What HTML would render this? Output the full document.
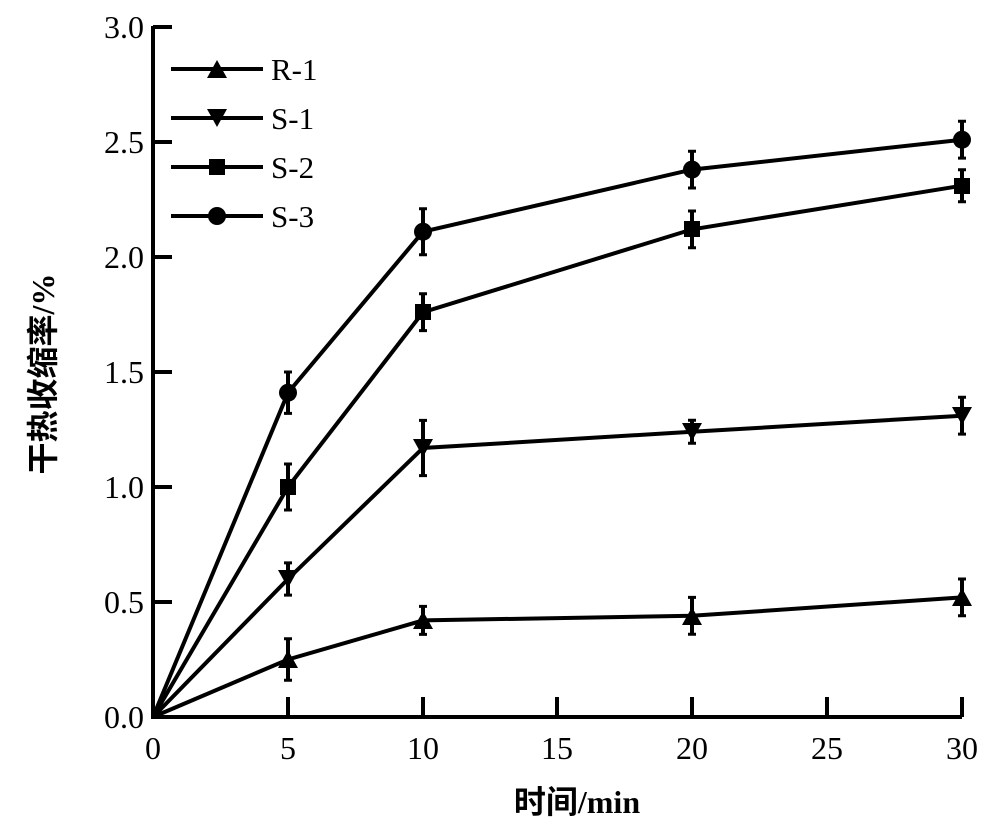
<!DOCTYPE html>
<html><head><meta charset="utf-8"><style>
html,body{margin:0;padding:0;background:#fff;}
svg{display:block;}
text{font-family:"Liberation Serif",serif;fill:#000;}
.cjk{font-family:"Liberation Serif","Noto Sans CJK SC","WenQuanYi Zen Hei",sans-serif;}
</style></head><body>
<svg width="1000" height="821" viewBox="0 0 1000 821" xmlns="http://www.w3.org/2000/svg">
<g stroke="#000" stroke-width="4" fill="none">
<path d="M153 26 V717 H962"/>
<path d="M153 27 H172 M153 142 H172 M153 257 H172 M153 372 H172 M153 487 H172 M153 602 H172"/>
<path d="M288 717 V697 M423 717 V697 M557 717 V697 M692 717 V697 M827 717 V697 M962 717 V697"/>
<polyline points="153,717 288,659.5 423,620.4 692,615.8 962,597.4"/>
<polyline points="153,717 288,579 423,448 692,431.8 962,415.7"/>
<polyline points="153,717 288,487 423,312.2 692,229.4 962,185.7"/>
<polyline points="153,717 288,392.7 423,231.7 692,169.6 962,139.7"/>
<path d="M171 69 H263 M171 118 H263 M171 167 H263 M171 216 H263"/>
</g>
<g stroke="#000" stroke-width="4">
<path d="M288 638.8V680.2 M423 606.4V634.4 M692 597.4V634.2 M962 579V615.8"/>
<path d="M288 562.9V595.1 M423 420.4V475.6 M692 420.3V443.3 M962 397.3V434.1"/>
<path d="M288 464V510 M423 293.8V330.6 M692 211V247.8 M962 169.7V201.7"/>
<path d="M288 372V413.4 M423 208.7V254.7 M692 151.2V188 M962 121.3V158.1"/>
<path stroke-width="3" d="M284 638.8h8M284 680.2h8M419 606.4h8M419 634.4h8M688 597.4h8M688 634.2h8M958 579h8M958 615.8h8
M284 562.9h8M284 595.1h8M419 420.4h8M419 475.6h8M688 420.3h8M688 443.3h8M958 397.3h8M958 434.1h8
M284 464h8M284 510h8M419 293.8h8M419 330.6h8M688 211h8M688 247.8h8M958 169.7h8M958 201.7h8
M284 372h8M284 413.4h8M419 208.7h8M419 254.7h8M688 151.2h8M688 188h8M958 121.3h8M958 158.1h8"/>
</g>
<g fill="#000">
<path d="M288 650l-10 18h20z M423 611l-10 18h20z M692 607l-10 18h20z M962 588l-10 18h20z M217 60l-10 18h20z"/>
<path d="M288 588l-10 -18h20z M423 457l-10 -18h20z M692 441l-10 -18h20z M962 425l-10 -18h20z M217 127l-10 -18h20z"/>
<rect x="280" y="479" width="16" height="16"/><rect x="415" y="304" width="16" height="16"/><rect x="684" y="221" width="16" height="16"/><rect x="954" y="178" width="16" height="16"/><rect x="209" y="159" width="16" height="16"/>
<circle cx="288" cy="392.7" r="9"/><circle cx="423" cy="231.7" r="9"/><circle cx="692" cy="169.6" r="9"/><circle cx="962" cy="139.7" r="9"/><circle cx="217" cy="216" r="9"/>
</g>
<g font-size="31">
<text x="271" y="80">R-1</text>
<text x="271" y="129">S-1</text>
<text x="271" y="178">S-2</text>
<text x="271" y="227">S-3</text>
</g>
<g font-size="32" text-anchor="end">
<text x="144" y="38">3.0</text>
<text x="144" y="153">2.5</text>
<text x="144" y="268">2.0</text>
<text x="144" y="383">1.5</text>
<text x="144" y="498">1.0</text>
<text x="144" y="613">0.5</text>
<text x="144" y="728">0.0</text>
</g>
<g font-size="32" text-anchor="middle">
<text x="153" y="759">0</text>
<text x="288" y="759">5</text>
<text x="423" y="759">10</text>
<text x="557" y="759">15</text>
<text x="692" y="759">20</text>
<text x="827" y="759">25</text>
<text x="962" y="759">30</text>
</g>
<text class="cjk" x="577" y="813" font-size="32" font-weight="bold" text-anchor="middle">时间/min</text>
<text class="cjk" transform="translate(54,374) rotate(-90)" font-size="32" font-weight="bold" text-anchor="middle">干热收缩率/%</text>
</svg>
</body></html>
